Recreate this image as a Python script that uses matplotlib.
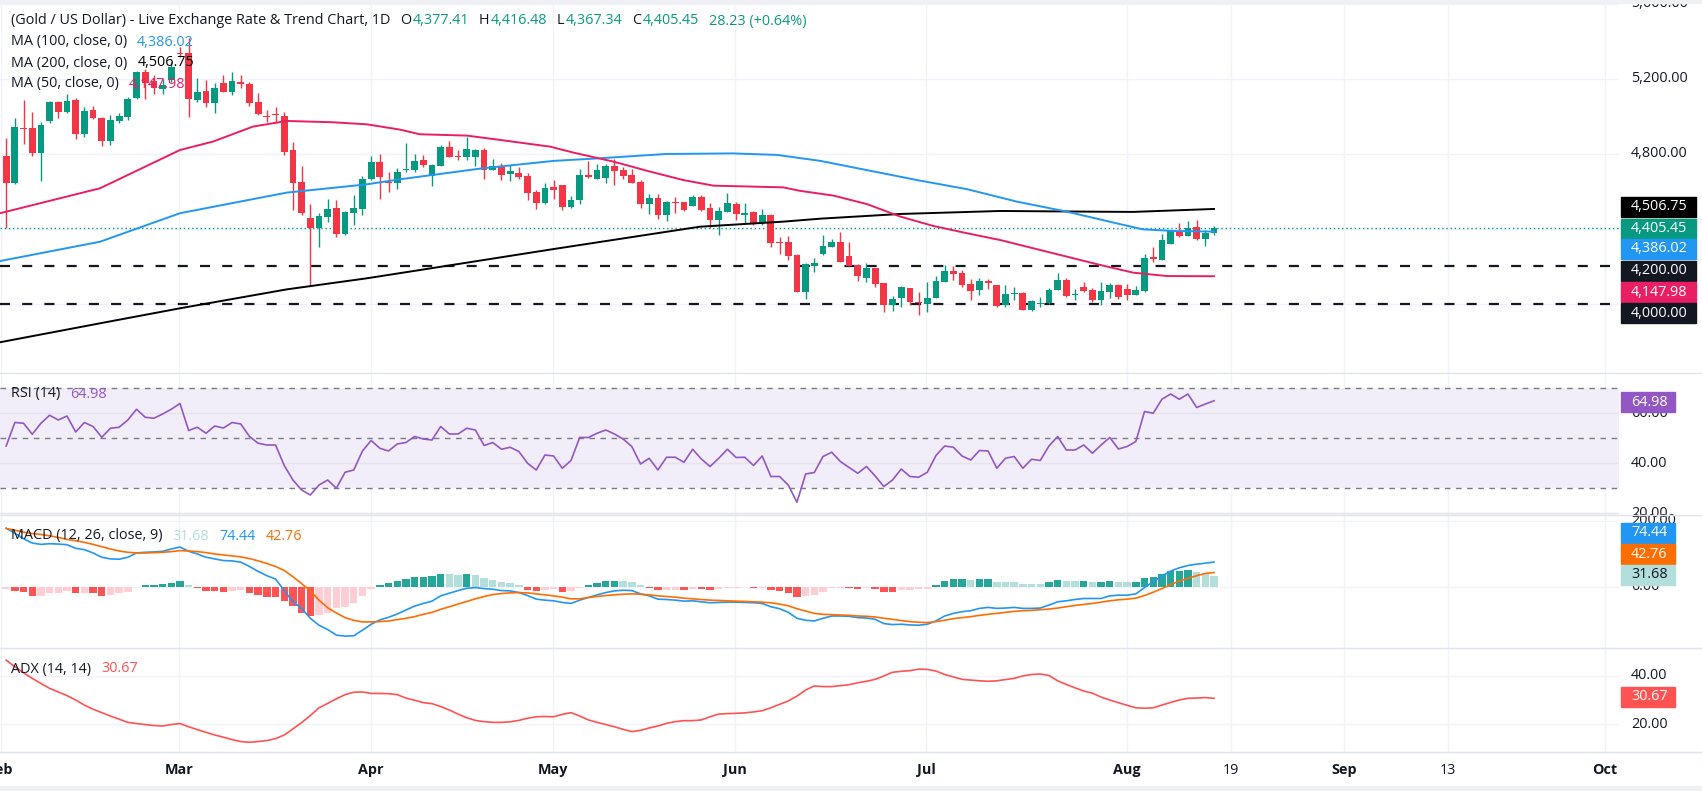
import numpy as np
import matplotlib
matplotlib.use("Agg")
import matplotlib.pyplot as plt
from matplotlib.patches import Rectangle
from matplotlib.transforms import blended_transform_factory

plt.rcParams['font.family'] = ['Open Sans', 'DejaVu Sans']

W, H = 1702, 791

# daily candles
opens = [4789, 4647, 4940, 4937, 4807, 4976, 5079, 5026, 5088, 4908,
         5035, 4990, 4871, 4978, 4999, 5100, 5239, 5191, 5145, 5195,
         5340, 5337, 5088, 5136, 5074, 5177, 5132, 5182, 5173, 5076,
         5005, 5012, 5003, 4821, 4651, 4459, 4404, 4466, 4512, 4375,
         4487, 4507, 4667, 4757, 4652, 4647, 4716, 4716, 4768, 4683,
         4736, 4839, 4788, 4786, 4786, 4821, 4716, 4736, 4695, 4699,
         4683, 4599, 4540, 4622, 4635, 4517, 4555, 4686, 4667, 4674,
         4736, 4715, 4688, 4651, 4535, 4564, 4476, 4545, 4545, 4523,
         4569, 4514, 4448, 4491, 4532, 4476, 4491, 4430, 4475, 4332,
         4332, 4261, 4066, 4203, 4267, 4306, 4331, 4256, 4206, 4141,
         4194, 4112, 3996, 4030, 4085, 4012, 4001, 4030, 4119, 4178,
         4164, 4107, 4075, 4124, 4101, 3995, 4055, 4057, 3968, 4001,
         4004, 4075, 4128, 4050, 4089, 4075, 4021, 4066, 4101, 4082,
         4048, 4071, 4249, 4235, 4320, 4389, 4364, 4409, 4348, 4377.41]
highs = [4885, 4990, 5088, 5022, 4972, 5085, 5082, 5120, 5100, 5052,
         5055, 4996, 5010, 5020, 5102, 5245, 5252, 5220, 5200, 5290,
         5372, 5417, 5204, 5195, 5177, 5220, 5236, 5220, 5185, 5124,
         5035, 5052, 5024, 4866, 4736, 4533, 4484, 4561, 4555, 4495,
         4581, 4682, 4789, 4800, 4706, 4723, 4860, 4799, 4795, 4747,
         4846, 4869, 4820, 4892, 4824, 4830, 4773, 4750, 4741, 4733,
         4697, 4608, 4645, 4661, 4635, 4578, 4719, 4764, 4745, 4747,
         4772, 4733, 4719, 4661, 4585, 4585, 4551, 4572, 4545, 4580,
         4580, 4537, 4519, 4590, 4545, 4537, 4498, 4509, 4480, 4359,
         4363, 4265, 4217, 4244, 4368, 4349, 4386, 4331, 4212, 4217,
         4194, 4112, 4043, 4096, 4085, 4064, 4119, 4151, 4206, 4203,
         4183, 4133, 4137, 4133, 4101, 4101, 4092, 4064, 4021, 4037,
         4087, 4167, 4137, 4082, 4119, 4085, 4119, 4114, 4107, 4107,
         4096, 4267, 4306, 4373, 4393, 4430, 4443, 4448, 4395, 4416.48]
lows = [4405, 4640, 4853, 4789, 4658, 4964, 4990, 5020, 4878, 4889,
        4986, 4844, 4850, 4966, 4981, 5095, 5095, 5120, 5120, 5185,
        5319, 4999, 5079, 5052, 5017, 5129, 5115, 5150, 5056, 5008,
        4969, 4965, 4796, 4501, 4475, 4098, 4306, 4436, 4355, 4370,
        4421, 4476, 4660, 4558, 4599, 4612, 4706, 4706, 4732, 4629,
        4736, 4786, 4767, 4768, 4738, 4667, 4714, 4660, 4656, 4667,
        4555, 4508, 4535, 4560, 4501, 4514, 4532, 4674, 4665, 4647,
        4635, 4667, 4647, 4514, 4482, 4452, 4443, 4487, 4494, 4523,
        4494, 4404, 4368, 4491, 4450, 4430, 4420, 4420, 4306, 4267,
        4235, 4062, 4025, 4172, 4261, 4306, 4222, 4203, 4124, 4119,
        4092, 3959, 3964, 3982, 3996, 3941, 3959, 4030, 4119, 4128,
        4092, 4021, 4050, 4080, 3982, 3986, 4021, 3968, 3962, 3984,
        4000, 4075, 4039, 4021, 4064, 4012, 3995, 4030, 4025, 4021,
        4048, 4064, 4226, 4235, 4320, 4359, 4364, 4341, 4311, 4367.34]
closes = [4647, 4946, 4932, 4807, 4955, 5079, 5026, 5083, 4908, 5029,
          4990, 4871, 4981, 5003, 5093, 5239, 5177, 5150, 5170, 5266,
          5332, 5091, 5129, 5074, 5150, 5132, 5189, 5172, 5074, 5013,
          4999, 5006, 4812, 4647, 4484, 4404, 4470, 4507, 4375, 4489,
          4514, 4667, 4757, 4676, 4646, 4702, 4721, 4763, 4741, 4741,
          4839, 4786, 4784, 4827, 4821, 4716, 4736, 4690, 4711, 4679,
          4594, 4540, 4619, 4608, 4517, 4555, 4688, 4679, 4715, 4736,
          4711, 4683, 4647, 4535, 4564, 4473, 4544, 4540, 4501, 4569,
          4501, 4448, 4496, 4537, 4480, 4483, 4427, 4473, 4327, 4327,
          4258, 4066, 4212, 4217, 4309, 4331, 4222, 4203, 4151, 4194,
          4107, 3996, 4027, 4091, 4012, 4004, 4030, 4123, 4178, 4160,
          4101, 4071, 4123, 4114, 3989, 4053, 4060, 3968, 4016, 4005,
          4075, 4128, 4043, 4055, 4071, 4021, 4069, 4101, 4039, 4048,
          4075, 4244, 4238, 4341, 4389, 4364, 4404, 4347, 4377, 4405.45]

# moving averages, read as knots (bar index, value)
ma50_x = [-0.7, 10.8, 20, 23.8, 28.4, 32.3, 37.6, 41.5, 45.3, 47.6, 53, 56.8, 62.6, 65.3,
          69.9, 74.1, 77.9, 81.4, 89.4, 91.4, 95.2, 99.1, 102.9, 106.7, 110.6, 114.4,
          118.2, 122.1, 125.9, 129.7, 133.6, 139]
ma50_y = [4484, 4617, 4821, 4866, 4946, 4976, 4969, 4958, 4930, 4905, 4898, 4875, 4839, 4807,
          4759, 4706, 4661, 4631, 4622, 4603, 4578, 4532, 4466, 4416, 4377, 4341,
          4297, 4252, 4208, 4167, 4149, 4147.98]
ma100_x = [-0.7, 10.8, 20, 32.3, 41.5, 45.3, 47.6, 54.9, 63, 68.3, 76, 83.6, 88.7, 93.7,
           104.8, 110.6, 116.3, 122.1, 127.8, 130.8, 134.6, 139]
ma100_y = [4229, 4332, 4484, 4594, 4638, 4665, 4679, 4724, 4763, 4777, 4800, 4803, 4795, 4763,
           4661, 4612, 4546, 4492, 4430, 4398, 4389, 4386.02]
ma200_x = [-0.7, 10.8, 20, 32.3, 41.5, 47.6, 63, 79.8, 89.4, 93.7, 102.9, 114.4, 125.9, 129.7, 139]
ma200_y = [3796, 3897, 3977, 4078, 4137, 4181, 4293, 4412, 4439, 4455, 4480, 4496, 4492, 4491, 4506.75]

rsi = [46.9, 56.3, 56.0, 51.6, 56.0, 59.2, 57.3, 58.9, 52.5, 56.3,
       54.7, 50.4, 54.0, 54.4, 57.3, 61.6, 58.4, 58.0, 59.7, 61.6,
       63.9, 53.1, 54.4, 52.0, 54.9, 54.1, 56.3, 55.7, 50.7, 48.0,
       47.3, 47.3, 39.1, 33.3, 29.3, 27.3, 31.3, 33.3, 30.0, 36.4,
       37.3, 44.9, 49.1, 46.0, 44.9, 47.7, 48.3, 50.7, 49.7, 49.3,
       54.7, 51.7, 51.7, 54.0, 53.3, 47.1, 48.3, 45.6, 46.4, 44.7,
       40.0, 37.3, 43.3, 42.9, 38.0, 41.1, 50.3, 50.3, 52.0, 53.3,
       51.7, 49.7, 46.7, 39.7, 42.0, 37.3, 42.4, 42.4, 40.4, 45.6,
       41.7, 38.7, 42.0, 45.6, 42.3, 42.4, 39.1, 42.9, 34.7, 34.7,
       31.3, 24.4, 35.7, 36.3, 42.7, 44.4, 40.7, 38.3, 36.0, 38.7,
       34.9, 30.7, 33.3, 37.7, 34.7, 34.4, 36.4, 43.1, 46.9, 46.4,
       42.9, 41.3, 45.1, 44.9, 38.0, 42.0, 42.7, 38.0, 41.6, 41.1,
       46.9, 50.7, 45.3, 45.3, 47.3, 44.0, 47.3, 50.3, 45.7, 46.7,
       48.7, 60.7, 60.0, 65.6, 67.7, 65.6, 67.7, 62.3, 63.7, 64.98]

macd = [177, 162, 145, 132, 128, 130, 129, 127, 116, 112,
        102, 89, 84, 83, 89, 102, 104, 105, 107, 114,
        120, 107, 99, 89, 84, 79, 78, 74, 61, 46,
        33, 23, -12, -46, -66, -96, -117, -130, -147, -150,
        -149, -132, -114, -101, -93, -83, -71, -59, -51, -44,
        -28, -20, -12, -5, -3, -6, -8, -12, -13, -18,
        -27, -38, -41, -43, -48, -51, -41, -33, -25, -18,
        -13, -11, -12, -22, -28, -38, -39, -41, -44, -43,
        -46, -49, -48, -47, -47, -48, -49, -51, -61, -67,
        -78, -96, -102, -104, -96, -89, -89, -90, -94, -95,
        -99, -112, -115, -114, -116, -117, -114, -104, -89, -81,
        -76, -73, -66, -63, -66, -65, -63, -66, -66, -65,
        -56, -46, -43, -39, -36, -36, -36, -28, -26, -26,
        -22, -3, 15, 32, 47, 57, 64, 68, 71, 74.44]
signal = [176, 171, 165, 161, 158, 154, 149, 143, 139, 134,
          128, 121, 114, 108, 104, 102, 102, 103, 104, 106,
          109, 108, 106, 103, 99, 96, 93, 90, 85, 78,
          70, 61, 49, 30, 9, -13, -41, -64, -80, -94,
          -102, -107, -107, -106, -104, -100, -96, -91, -84, -78,
          -69, -61, -53, -45, -37, -30, -24, -21, -19, -18,
          -19, -22, -25, -28, -32, -37, -37, -33, -30, -27,
          -25, -23, -22, -23, -25, -28, -30, -32, -35, -37,
          -39, -41, -42, -43, -44, -45, -46, -47, -49, -53,
          -58, -67, -74, -81, -84, -85, -86, -87, -89, -90,
          -92, -96, -99, -103, -106, -108, -109, -106, -102, -97,
          -94, -91, -87, -84, -81, -78, -75, -73, -72, -70,
          -68, -65, -61, -57, -54, -51, -47, -43, -40, -38,
          -35, -27, -17, -6, 6, 17, 25, 33, 40, 42.76]
hist = [-7, -12, -15, -28, -27, -20, -18, -12, -20, -18,
        -20, -27, -25, -20, -15, -2, 5, 6, 8, 12,
        17, 4, -3, -12, -13, -15, -12, -11, -20, -25,
        -30, -31, -44, -59, -80, -89, -86, -79, -66, -63,
        -51, -29, -7, 5, 10, 17, 23, 28, 30, 32,
        39, 38, 36, 37, 35, 25, 20, 13, 10, 5,
        -10, -12, -10, -8, -15, -13, -5, 5, 10, 17,
        18, 17, 13, 4, -5, -11, -10, -9, -11, -6,
        -8, -10, -7, -5, -4, -2, -5, -4, -10, -12,
        -20, -31, -28, -25, -16, -5, -4, -5, -7, -5,
        -7, -16, -17, -10, -9, -8, -6, 5, 17, 23,
        24, 20, 23, 24, 14, 14, 13, 8, 8, 7,
        14, 20, 17, 17, 18, 14, 15, 17, 14, 14,
        15, 25, 28, 39, 46, 48, 49, 43, 39, 31.68]

adx = [46.4, 43.7, 41.2, 38.9, 36.8, 34.8, 33.3, 31.8, 30.0, 27.9,
       26.2, 24.8, 23.4, 22.1, 20.8, 20.3, 19.9, 19.5, 19.3, 19.9,
       20.3, 19.0, 17.8, 16.7, 15.6, 14.7, 13.7, 12.9, 12.6, 12.9,
       13.3, 14.1, 15.6, 18.1, 20.7, 23.6, 26.8, 28.6, 30.5, 32.2,
       33.2, 33.3, 32.7, 32.7, 32.6, 32.2, 30.8, 29.9, 28.9, 28.5,
       27.3, 25.9, 24.2, 22.7, 21.6, 21.1, 20.8, 20.8, 21.0, 21.6,
       22.5, 23.1, 23.2, 23.1, 24.1, 24.8, 23.4, 21.8, 20.8, 19.9,
       19.0, 17.9, 17.0, 17.5, 18.5, 19.3, 20.4, 21.1, 21.5, 21.5,
       21.8, 23.1, 24.2, 24.4, 24.5, 24.7, 25.1, 25.6, 26.8, 28.2,
       29.6, 31.6, 34.1, 35.8, 35.5, 35.5, 35.9, 36.3, 37.1, 37.7,
       38.5, 39.9, 41.4, 41.8, 42.1, 42.7, 42.6, 41.9, 40.5, 39.5,
       38.5, 38.2, 37.9, 37.7, 37.9, 38.4, 38.9, 39.9, 40.5, 40.7,
       40.1, 37.9, 36.4, 35.0, 33.7, 32.8, 31.2, 30.0, 28.9, 27.8,
       26.8, 26.6, 26.8, 27.9, 29.0, 30.0, 30.7, 30.8, 31.0, 30.67]

tick_pos = [-0.6, 19.9, 42.0, 62.9, 83.9, 105.9, 129.0, 140.9, 154.0, 165.9, 184.0]
tick_labels = ['Feb', 'Mar', 'Apr', 'May', 'Jun', 'Jul', 'Aug', '19', 'Sep', '13', 'Oct']

UP, DOWN = '#089981', '#F23645'
GRID = '#F0F3FA'
TXT = '#131722'
FS = 10.4

fig = plt.figure(figsize=(W / 100, H / 100), dpi=100)
fig.patch.set_facecolor('white')
XR = 1619


def panel(top, bottom, ylim):
    ax = fig.add_axes([0, 1 - bottom / H, XR / W, (bottom - top) / H])
    ax.set_xlim(-0.71, 185.6)
    ax.set_ylim(*ylim)
    ax.set_axis_off()
    for p in tick_pos:
        ax.axvline(p, color=GRID, lw=1, zorder=0)
    return ax


ax_p = panel(3, 373, (3632, 5605))
ax_r = panel(373, 515, (19.3, 76.1))
ax_m = panel(515, 648, (-186, 217))
ax_a = panel(648, 752, (8.6, 51.4))


def ylab(ax, v, s):
    tr = blended_transform_factory(fig.transFigure, ax.transData)
    ax.text(1631 / W, v, s, transform=tr, fontsize=FS, color=TXT, va='center', ha='left', clip_on=False)


# price panel
for v in [4000, 4400, 4800, 5200, 5600]:
    ax_p.axhline(v, color=GRID, lw=1, zorder=0)
for v in [4800, 5200, 5600]:
    ylab(ax_p, v, f'{v:,.2f}')

o, hi, lo, c = map(np.array, (opens, highs, lows, closes))
idx = np.arange(len(c))
col = np.where(c >= o, UP, DOWN)
ax_p.vlines(idx, lo, hi, colors=col, lw=1, zorder=3)
ax_p.bar(idx, np.maximum(np.abs(c - o), 5), bottom=np.minimum(o, c), width=0.78,
         color=col, linewidth=0, zorder=4)

ax_p.plot(ma200_x, ma200_y, color='#000000', lw=1.4, zorder=5)
ax_p.plot(ma100_x, ma100_y, color='#2196F3', lw=1.4, zorder=5)
ax_p.plot(ma50_x, ma50_y, color='#E91E63', lw=1.4, zorder=5)

for v in [4200, 4000]:
    ax_p.axhline(v, color=TXT, lw=1.6, dashes=(4.5, 5.5), zorder=2)
ax_p.axhline(closes[-1], color=UP, lw=1, dashes=(1, 2), zorder=2)

# RSI
ax_r.axhspan(30, 70, color='#F2EEF9', lw=0, zorder=0)
for v in [20, 40, 60]:
    ax_r.axhline(v, color='#E6E2EE', lw=1, zorder=0.5)
for v in [70, 50, 30]:
    ax_r.axhline(v, color='#787B86', lw=1, dashes=(4, 4), zorder=1)
ax_r.plot(idx, rsi, color='#9257C4', lw=1.2, zorder=3)
for v in [60, 40, 20]:
    ylab(ax_r, v, f'{v:.2f}')

# MACD
for v in [0, 200]:
    ax_m.axhline(v, color=GRID, lw=1, zorder=0)
hcol = []
for i, v in enumerate(hist):
    prev = hist[i - 1] if i else v - 1
    if v >= 0:
        hcol.append('#26A69A' if v > prev else '#B2DFDB')
    else:
        hcol.append('#FFCDD2' if v > prev else '#FF5252')
ax_m.bar(idx, hist, width=0.85, color=hcol, linewidth=0, zorder=2)
ax_m.plot(idx, macd, color='#2196F3', lw=1.2, zorder=3)
ax_m.plot(idx, signal, color='#FF6D00', lw=1.2, zorder=3)
ylab(ax_m, 200, '200.00')
ylab(ax_m, 0, '0.00')

# ADX
for v in [20, 40]:
    ax_a.axhline(v, color=GRID, lw=1, zorder=0)
ax_a.plot(idx, adx, color='#FF5252', lw=1.2, zorder=3)
for v in [40, 20]:
    ylab(ax_a, v, f'{v:.2f}')

# separators and bands
for y in [373, 515, 648, 752]:
    fig.add_artist(plt.Line2D([0, 1], [1 - y / H, 1 - y / H], color='#E0E3EB', lw=1,
                              transform=fig.transFigure, zorder=6))
fig.add_artist(Rectangle((0, 1 - 3 / H), 1, 3 / H, transform=fig.transFigure,
                         color='#EEF0F4', zorder=20))
fig.add_artist(Rectangle((0, 0), 1, 5 / H, transform=fig.transFigure,
                         color='#EEF0F4', zorder=20))

# x labels
tr = blended_transform_factory(ax_a.transData, fig.transFigure)
for p, s in zip(tick_pos, tick_labels):
    ax_a.text(p, 1 - 770 / H, s, transform=tr, ha='center', va='center', fontsize=FS,
              color=TXT, fontweight='normal' if s.isdigit() else 'bold', clip_on=False)


# value tags on the right scale
def tag(yc, s, bg, fg='white', w=75):
    fig.add_artist(Rectangle((1621 / W, 1 - (yc + 10) / H), w / W, 20 / H,
                             transform=fig.transFigure, color=bg, zorder=15))
    fig.text(1631 / W, 1 - yc / H, s, color=fg, fontsize=FS, va='center', ha='left', zorder=16)


tag(207, '4,506.75', '#000000')
tag(229, '4,405.45', UP)
tag(249, '4,386.02', '#2196F3')
tag(271, '4,200.00', TXT)
tag(292, '4,147.98', '#E91E63')
tag(313, '4,000.00', TXT)
tag(402, '64.98', '#9257C4', w=54)
tag(533, '74.44', '#2196F3', w=54)
tag(554, '42.76', '#FF6D00', w=54)
tag(575, '31.68', '#B2DFDB', fg=TXT, w=54)
tag(697, '30.67', '#FF5252', w=54)

# legends
rend = fig.canvas.get_renderer()


def legend_row(y, parts, x=11):
    for s, color, gap in parts:
        t = fig.text(x / W, 1 - y / H, s, color=color, fontsize=FS, va='center', ha='left', zorder=12)
        x += t.get_window_extent(rend).width + gap


legend_row(21, [('(Gold / US Dollar) - Live Exchange Rate & Trend Chart, 1D', TXT, 10),
                ('O', TXT, 1), ('4,377.41', UP, 10), ('H', TXT, 1), ('4,416.48', UP, 10),
                ('L', TXT, 1), ('4,367.34', UP, 10), ('C', TXT, 1), ('4,405.45', UP, 10),
                ('28.23 (+0.64%)', UP, 0)])
legend_row(42, [('MA (100, close, 0)', TXT, 10), ('4,386.02', '#2196F3', 0)])
legend_row(63, [('MA (200, close, 0)', TXT, 10), ('4,506.75', '#000000', 0)])
legend_row(84, [('MA (50, close, 0)', TXT, 10), ('4,147.98', '#E91E63', 0)])
legend_row(394, [('RSI (14)', TXT, 10), ('64.98', '#9257C4', 0)])
legend_row(536, [('MACD (12, 26, close, 9)', TXT, 10), ('31.68', '#B2DFDB', 10),
                 ('74.44', '#2196F3', 10), ('42.76', '#FF6D00', 0)])
legend_row(669, [('ADX (14, 14)', TXT, 10), ('30.67', '#FF5252', 0)])

fig.savefig('out.png', dpi=100)
